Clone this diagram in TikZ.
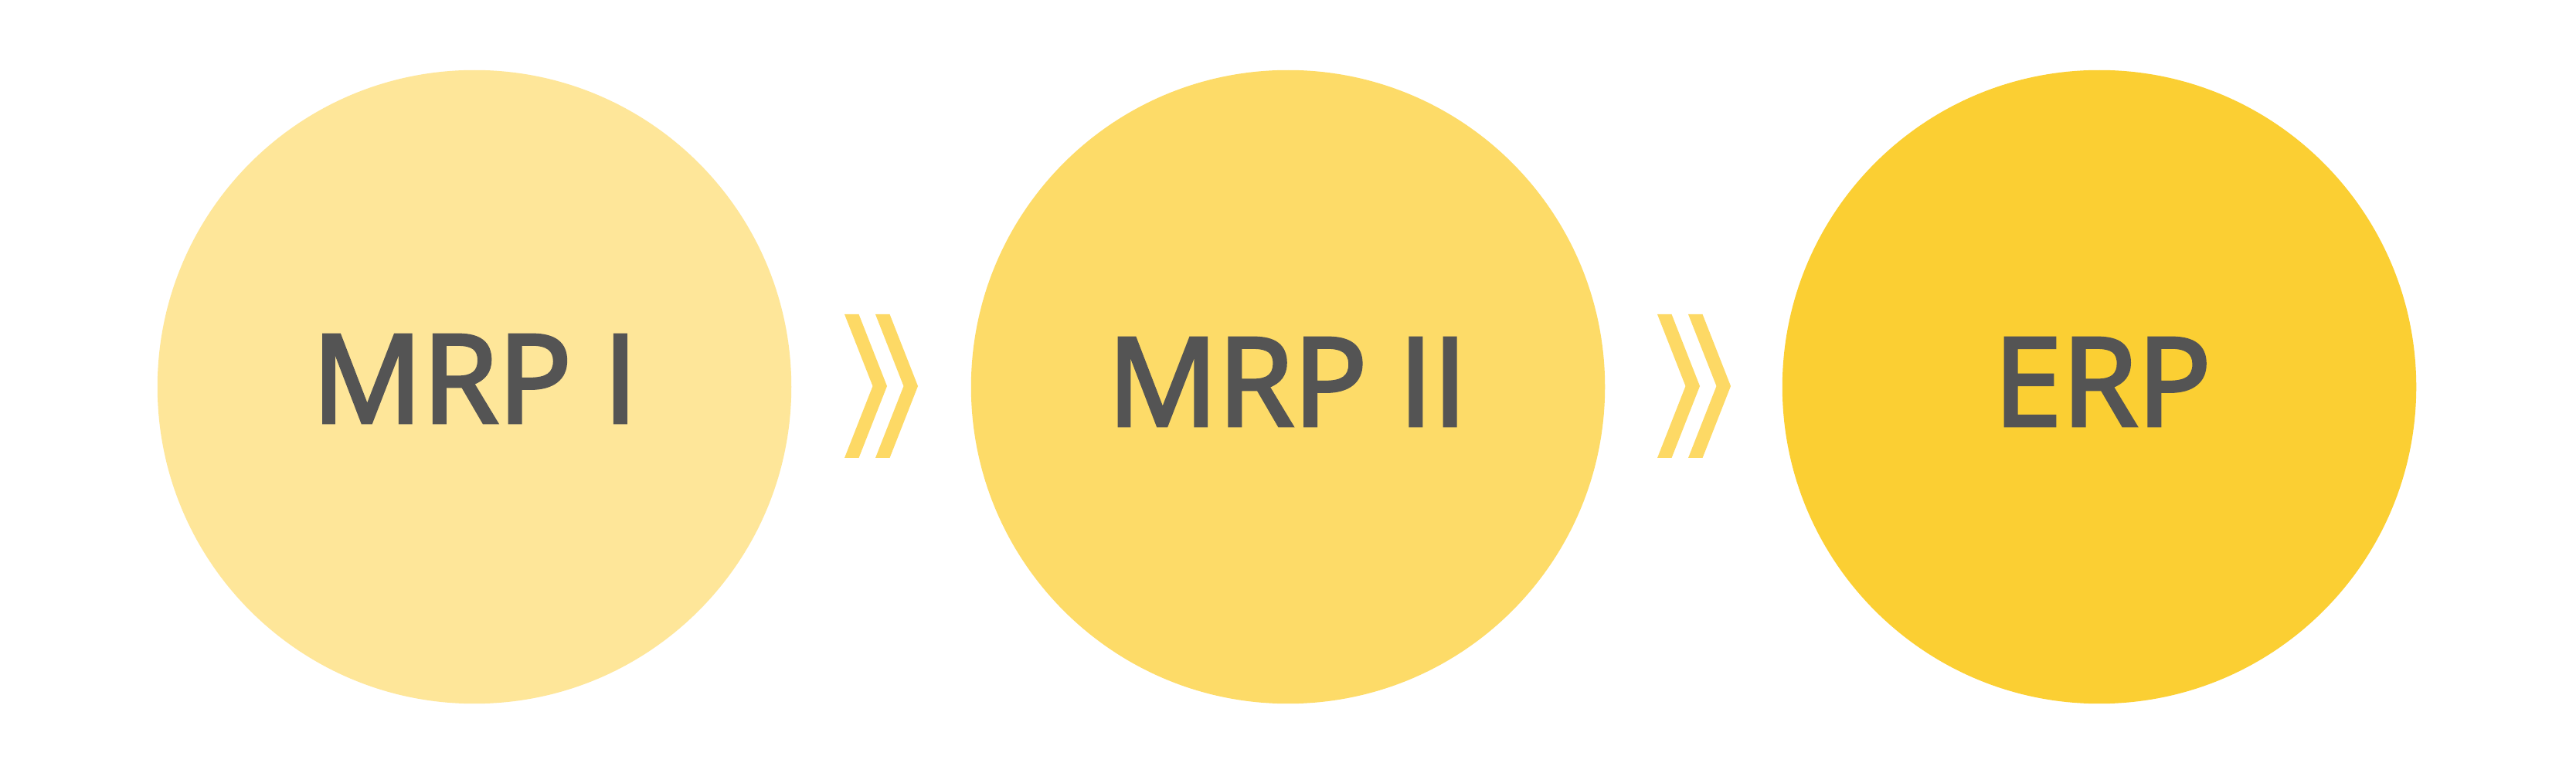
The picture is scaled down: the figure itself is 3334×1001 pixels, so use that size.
\documentclass[tikz,border=0pt]{standalone}
\usepackage{fontspec}
\newfontfamily\labfont{Open Sans}[FakeBold=3]
\definecolor{circA}{HTML}{FEE699}
\definecolor{circB}{HTML}{FDDB68}
\definecolor{circC}{HTML}{FBCF33}
\definecolor{chev}{HTML}{FDD965}
\definecolor{txt}{HTML}{545454}
\tikzset{
  stage/.style={circle, inner sep=0pt, minimum size=8.2cm, draw=none},
  lab/.style={anchor=base, inner sep=0pt, text=txt, font=\labfont\fontsize{45pt}{50pt}\selectfont},
  chevfill/.style={fill=chev, draw=none}
}
\begin{document}
\begin{tikzpicture}[x=0.01cm,y=-0.01cm]
\useasboundingbox (0,0) rectangle (3334,1001);
\fill[white] (0,0) rectangle (3334,1001);
\node[stage, fill=circA] (s1) at (614,501) {};
\node[stage, fill=circB] (s2) at (1667,501) {};
\node[stage, fill=circC] (s3) at (2717,501) {};
\node[lab] (t1) at (614.5,547) {MRP I};
\node[lab] (t2) at (1666,551) {MRP II};
\node[lab] (t3) at (2721,551) {ERP};
\foreach \x in {1093,1133,2145,2185}{
  \fill[chevfill] (\x,407) -- ++(18.5,0) -- ++(36.5,93) -- ++(-36.5,93) -- ++(-18.5,0) -- ++(36.5,-93) -- cycle;
}
\end{tikzpicture}
\end{document}
